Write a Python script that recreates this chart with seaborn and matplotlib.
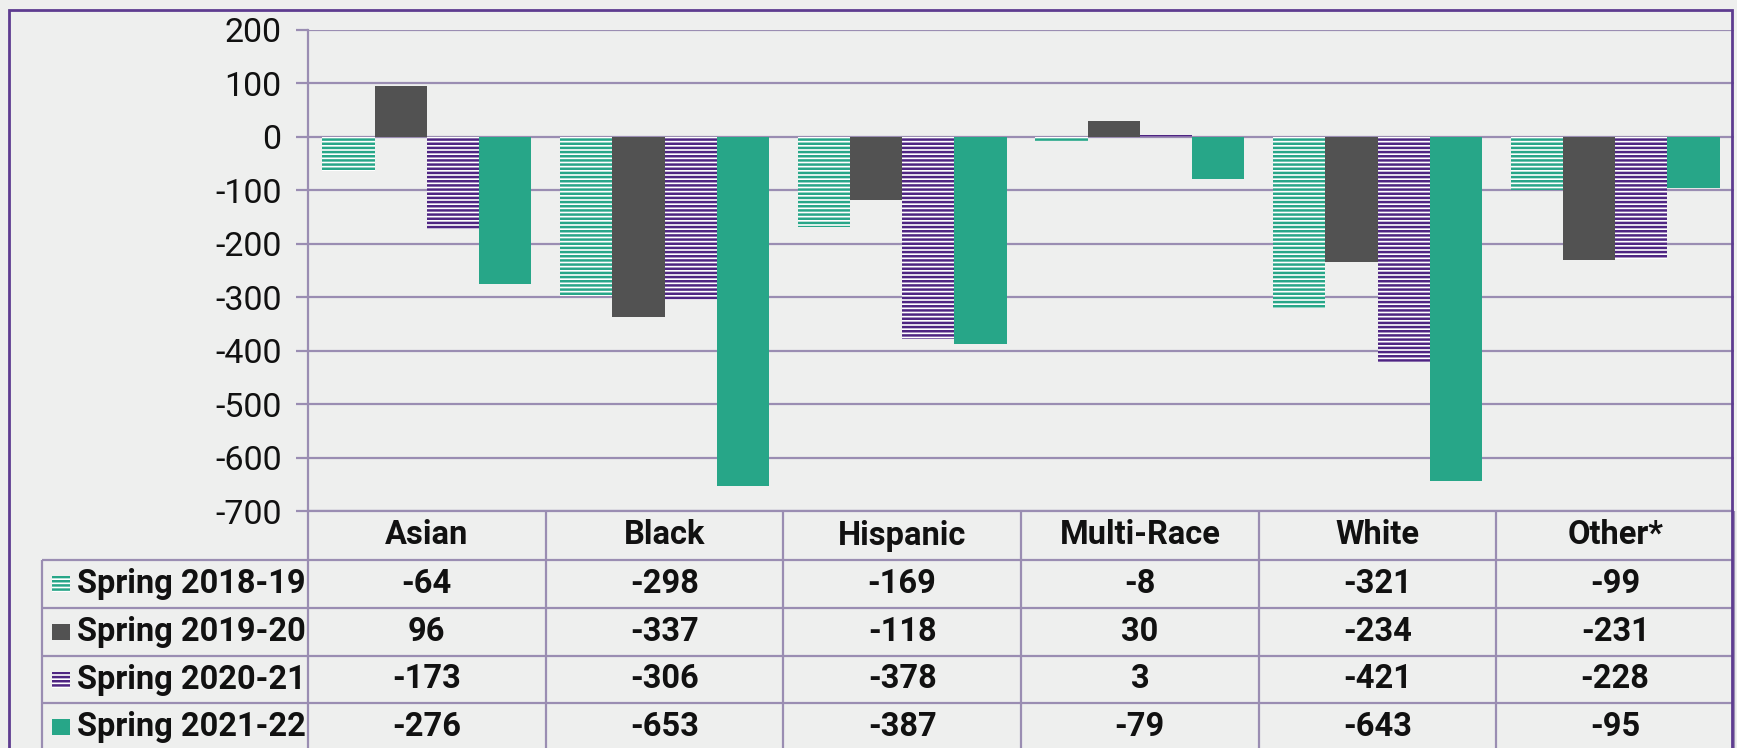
import matplotlib
matplotlib.use("Agg")
import matplotlib.pyplot as plt
from matplotlib.patches import Rectangle
import pandas as pd
import seaborn as sns

# ---------------- data ----------------
categories = ["Asian", "Black", "Hispanic", "Multi-Race", "White", "Other*"]
series = ["Spring 2018-19", "Spring 2019-20", "Spring 2020-21", "Spring 2021-22"]
v_2018_19 = [-64, -298, -169, -8, -321, -99]
v_2019_20 = [96, -337, -118, 30, -234, -231]
v_2020_21 = [-173, -306, -378, 3, -421, -228]
v_2021_22 = [-276, -653, -387, -79, -643, -95]
y_ticks = [200, 100, 0, -100, -200, -300, -400, -500, -600, -700]

values = [v_2018_19, v_2019_20, v_2020_21, v_2021_22]
df = pd.DataFrame({
    "cat": [c for s in series for c in categories],
    "series": [s for s in series for c in categories],
    "val": [v for vals in values for v in vals],
})

# ---------------- style ----------------
BG = "#EEEFEE"
GRID = "#9A8DB2"
BORDER = "#5E3C90"
TEAL = "#27A688"
GRAY = "#525252"
PURPLE = "#4E2582"
colors = [TEAL, GRAY, PURPLE, TEAL]
hatched = [True, False, True, False]

plt.rcParams["font.family"] = ["Roboto", "DejaVu Sans"]
plt.rcParams["axes.unicode_minus"] = False
plt.rcParams["hatch.linewidth"] = 1.8

W, H = 1737, 748
fig = plt.figure(figsize=(W / 100, H / 100), dpi=100, facecolor=BG)

X0, X1 = 308, 1734        # plot / table columns x-span (px)
YTOP, YBOT = 30, 511      # plot y-span (px from top)
ax = fig.add_axes([X0 / W, (H - YBOT) / H, (X1 - X0) / W, (YBOT - YTOP) / H])
ax.set_facecolor("none")

sns.barplot(data=df, x="cat", y="val", hue="series", order=categories,
            hue_order=series, palette=colors, width=0.88, saturation=1,
            legend=False, ax=ax, linewidth=0)

for cont, col, h in zip(ax.containers, colors, hatched):
    for bar in cont:
        if h:
            bar.set_facecolor("white")
            bar.set_edgecolor(col)
            bar.set_hatch("----")
            bar.set_linewidth(0)

ax.set_xlim(-0.5, len(categories) - 0.5)
ax.set_ylim(-700, 200)
ax.set_yticks(y_ticks)
ax.set_yticklabels([str(t) for t in y_ticks])
ax.set_xticks([])
ax.set_xlabel("")
ax.set_ylabel("")
ax.grid(axis="y", color=GRID, linewidth=1.6)
ax.set_axisbelow(True)
for s in ["top", "right", "bottom"]:
    ax.spines[s].set_visible(False)
ax.spines["left"].set_color(GRID)
ax.spines["left"].set_linewidth(1.6)
ax.tick_params(axis="y", length=9, width=1.6, color=GRID, labelsize=24.5,
               pad=10, labelcolor="#111111")

# ---------------- data table ----------------
ncat = len(categories)
colw = (X1 - X0) / ncat
def px2x(px):
    return -0.5 + (px - X0) / colw

tax = fig.add_axes([X0 / W, 0, (X1 - X0) / W, (H - YBOT) / H])
tax.set_xlim(-0.5, ncat - 0.5)
tax.set_ylim(H - YBOT, 0)
tax.axis("off")
tax.patch.set_alpha(0)

row_edges = [0, 49, 97, 145, 192, 240]
left_edge = px2x(42)
lk = dict(color=GRID, linewidth=1.6, clip_on=False, solid_capstyle="butt")
tax.plot([-0.5, ncat - 0.5], [0, 0], **lk)
for y in row_edges[1:-1]:
    tax.plot([left_edge, ncat - 0.5], [y, y], **lk)
for k in range(ncat + 1):
    tax.plot([-0.5 + k, -0.5 + k], [0, 260], **lk)
tax.plot([left_edge, left_edge], [row_edges[1], 260], **lk)

FS = 23.5
tk = dict(fontsize=FS, fontweight="bold", color="#111111", va="center", ha="center")
hc = (row_edges[0] + row_edges[1]) / 2
for i, c in enumerate(categories):
    tax.text(i, hc, c, **tk)

for r, (s, vals, col, h) in enumerate(zip(series, values, colors, hatched)):
    yc = (row_edges[r + 1] + row_edges[r + 2]) / 2
    for i, v in enumerate(vals):
        tax.text(i, yc, str(v), **tk)
    if h:
        sw = Rectangle((px2x(52), yc - 8), 18 / colw, 16, facecolor="white",
                       edgecolor=col, hatch="----", linewidth=0, clip_on=False)
    else:
        sw = Rectangle((px2x(52), yc - 8), 18 / colw, 16, facecolor=col,
                       linewidth=0, clip_on=False)
    tax.add_patch(sw)
    tax.text(px2x(77), yc, s, fontsize=FS, fontweight="bold", color="#111111",
             va="center", ha="left")

# outer border
fig.add_artist(Rectangle((9 / W, -0.05), (1732 - 9) / W, (H - 10) / H + 0.05,
                         transform=fig.transFigure, fill=False,
                         edgecolor=BORDER, linewidth=2))

fig.savefig("out.png", dpi=100, facecolor=BG)
